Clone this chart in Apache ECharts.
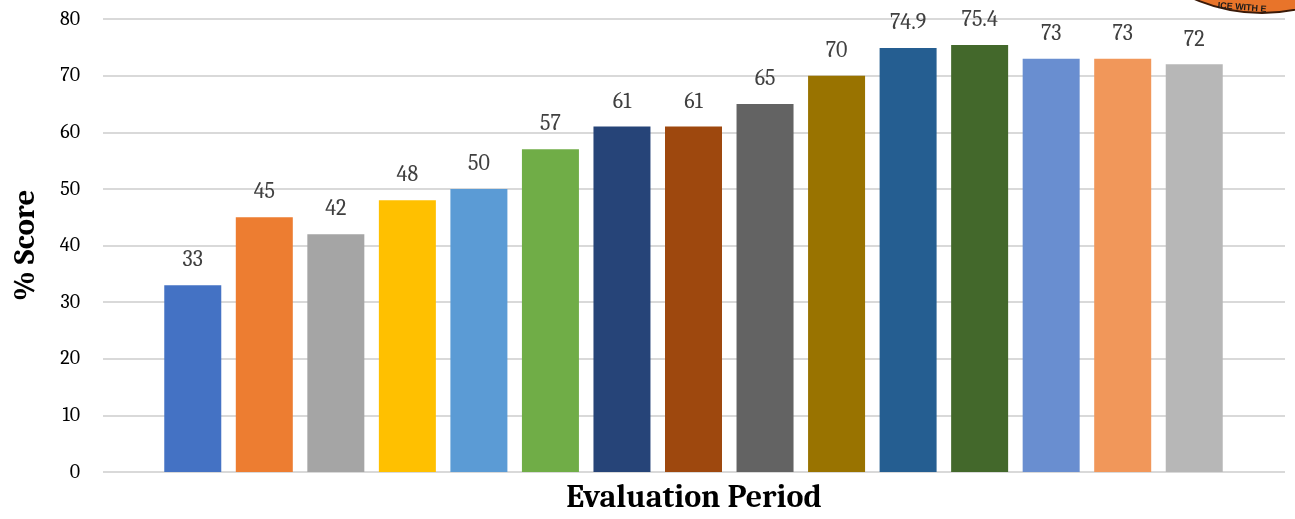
<!DOCTYPE html>
<html>
<head>
<meta charset="utf-8">
<script src="https://cdn.jsdelivr.net/npm/echarts@6/dist/echarts.min.js"></script>
<style>
  html, body { margin: 0; padding: 0; background: #fff; }
  #chart { width: 1295px; height: 519px; }
</style>
</head>
<body>
<div id="chart"></div>
<script>
// evaluation periods (no labels shown on the axis)
var periods = ['P1', 'P2', 'P3', 'P4', 'P5', 'P6', 'P7', 'P8', 'P9', 'P10', 'P11', 'P12', 'P13', 'P14', 'P15'];
var scores = [33, 45, 42, 48, 50, 57, 61, 61, 65, 70, 74.9, 75.4, 73, 73, 72];
var barColors = ['#4472C4', '#ED7D31', '#A5A5A5', '#FFC000', '#5B9BD5', '#70AD47', '#264478', '#9E480E',
                 '#636363', '#997300', '#255E91', '#43682B', '#698ED0', '#F1975A', '#B7B7B7'];
var yTicks = [0, 10, 20, 30, 40, 50, 60, 70, 80];

var serif = 'Cambria, "DejaVu Serif", "Liberation Serif", serif';

var chart = echarts.init(document.getElementById('chart'));

chart.setOption({
    animation: false,
    // grid 0 = full plot area with gridlines, grid 1 = where the bars sit
    grid: [
        { left: 103, right: 10, top: 19, bottom: 47, outerBoundsMode: 'none', containLabel: false },
        { left: 157, right: 65, top: 19, bottom: 47, outerBoundsMode: 'none', containLabel: false }
    ],
    xAxis: [
        {
            gridIndex: 0, type: 'value', min: 0, max: 1, show: true,
            axisLine: { show: false }, axisTick: { show: false }, axisLabel: { show: false },
            splitLine: { show: false },
            name: 'Evaluation Period', nameLocation: 'middle', nameGap: 10,
            nameTextStyle: { fontFamily: serif, fontWeight: 'bold', fontSize: 32, color: '#000' }
        },
        {
            gridIndex: 1, type: 'category', data: periods,
            axisLine: { show: false }, axisTick: { show: false }, axisLabel: { show: false }
        }
    ],
    yAxis: [
        {
            gridIndex: 0, type: 'value', min: yTicks[0], max: yTicks[yTicks.length - 1], interval: 10,
            axisLine: { show: false }, axisTick: { show: false },
            axisLabel: { fontFamily: serif, fontSize: 20, color: '#000', margin: 23 },
            splitLine: { lineStyle: { color: '#d9d9d9', width: 2 } },
            name: '% Score', nameLocation: 'middle', nameGap: 62,
            nameTextStyle: { fontFamily: serif, fontWeight: 'bold', fontSize: 31, color: '#000' }
        },
        {
            gridIndex: 1, type: 'value', min: 0, max: 80, show: false
        }
    ],
    series: [{
        type: 'bar',
        xAxisIndex: 1,
        yAxisIndex: 1,
        barWidth: 57,
        data: scores.map(function (v, i) {
            return { value: v, itemStyle: { color: barColors[i] } };
        }),
        label: {
            show: true, position: 'top', distance: 14,
            fontFamily: serif, fontSize: 22, color: '#404040'
        }
    }],
    graphic: [
        {
            type: 'circle', shape: { cx: 1262, cy: -157, r: 170 },
            style: { fill: '#E8742A', stroke: '#3a1a08', lineWidth: 2 }, z: 10
        },
        {
            type: 'text', x: 1218, y: 1, rotation: -0.08,
            style: { text: 'ICE WITH E', fill: '#1a1a1a', font: 'bold 9px sans-serif' }, z: 11
        }
    ]
});
</script>
</body>
</html>
